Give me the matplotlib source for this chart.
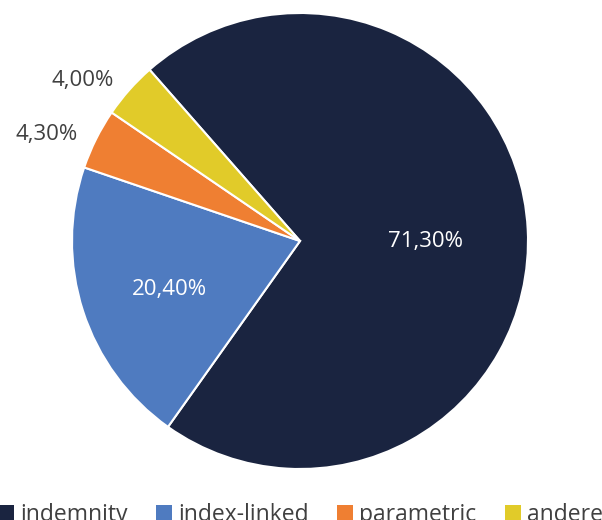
import numpy as np
import matplotlib.pyplot as plt
from matplotlib.patches import Patch

categories = ['indemnity', 'index-linked', 'parametric', 'andere']
values = [71.3, 20.4, 4.3, 4.0]
labels = ['71,30%', '20,40%', '4,30%', '4,00%']
colors = ['#1a2440', '#4f7bc0', '#ef7f32', '#e1cb29']

plt.rcParams['font.family'] = ['Open Sans', 'DejaVu Sans']
txt = '#404040'

fig = plt.figure(figsize=(6.02, 5.2), dpi=100)
ax = fig.add_axes([72 / 602, 51 / 520, 456 / 602, 456 / 520])

wedges, _ = ax.pie(values, colors=colors, startangle=131.3, counterclock=False,
                   radius=1, wedgeprops=dict(edgecolor='white', linewidth=1.5))
ax.set_xlim(-1, 1)
ax.set_ylim(-1, 1)
ax.set_aspect('auto')

# label positions from the wedge middle angles
for w, lab in zip(wedges, labels):
    mid = np.deg2rad((w.theta1 + w.theta2) / 2)
    frac = (w.theta2 - w.theta1) / 360
    if frac > 0.1:
        r = 0.55 if frac > 0.5 else 0.6
        ax.text(r * np.cos(mid), r * np.sin(mid) - 0.03, lab, color='white',
                fontsize=16, ha='center', va='center')
    else:
        r = 1.09
        ax.text(r * np.cos(mid), r * np.sin(mid) - 0.02, lab, color=txt,
                fontsize=16, ha='right', va='center')

handles = [Patch(facecolor=c, edgecolor='none') for c in colors]
leg = fig.legend(handles, categories, loc='lower left', bbox_to_anchor=(-0.018, -0.032),
                 ncol=4, frameon=False, fontsize=16.5, handlelength=0.7, handleheight=0.74,
                 handletextpad=0.25, columnspacing=1.25, borderaxespad=0)
for t in leg.get_texts():
    t.set_color(txt)

fig.savefig('out.png', dpi=100)
